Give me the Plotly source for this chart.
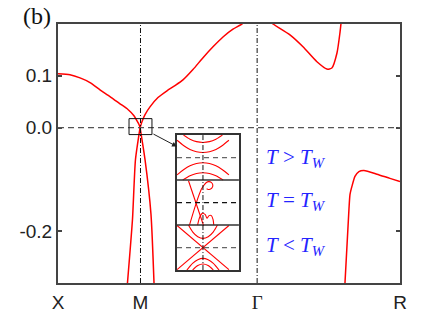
import plotly.graph_objects as go

# ---------------- data ----------------
K_X, K_M, K_G, K_R = 0.0, 1.0, 2.414, 4.146
tick_vals_x = [K_X, K_M, K_G, K_R]
tick_text_x = ["X", "M", "<span style=\"font-family:'Liberation Serif'\">Γ</span>", "R"]
tick_vals_y = [-0.2, 0.0, 0.1]
tick_text_y = ["-0.2", "0.0", "0.1"]

# band from X down to M
b1_k = [0.0, 0.145, 0.267, 0.388, 0.509, 0.630, 0.752, 0.848, 0.921, 0.958, 0.982, 0.995]
b1_e = [0.104, 0.102, 0.096, 0.087, 0.073, 0.060, 0.046, 0.035, 0.023, 0.013, 0.006, 0.0]
# band from M up through Gamma (peak above frame) and back up towards R
b2_k = [0.995, 1.018, 1.055, 1.115, 1.212, 1.321, 1.418, 1.515, 1.636, 1.758, 1.879, 2.0,
        2.121, 2.23, 2.414, 2.606, 2.812, 2.97, 3.139, 3.26, 3.32, 3.382, 3.418, 3.44]
b2_e = [0.0, 0.0115, 0.025, 0.040, 0.058, 0.071, 0.081, 0.092, 0.112, 0.135, 0.156, 0.175,
        0.190, 0.2, 0.222, 0.2, 0.179, 0.156, 0.127, 0.113, 0.115, 0.144, 0.183, 0.215]
# steep bands dropping from M
b3_k = [0.995, 0.939, 0.903, 0.842]
b3_e = [0.0, -0.062, -0.177, -0.30]
b4_k = [0.995, 1.055, 1.127, 1.164]
b4_e = [0.0, -0.062, -0.167, -0.30]
# band between Gamma and R
b5_k = [3.479, 3.527, 3.54, 3.564, 3.6, 3.648, 3.709, 3.867, 4.024, 4.146]
b5_e = [-0.30, -0.158, -0.129, -0.113, -0.094, -0.085, -0.083, -0.090, -0.098, -0.104]

# ---- inset (k relative to M, stacked panels: 2-3 T>Tw, 1-2 T=Tw, 0-1 T<Tw)
# panel T > T_W
p1a_k = [-0.75, -0.5, -0.25, 0.0, 0.25, 0.5, 0.75]
p1a_e = [3.0, 2.91, 2.855, 2.837, 2.855, 2.91, 3.0]
p1b_k = [-1.0, -0.75, -0.5, -0.25, 0.0, 0.25, 0.5, 0.75, 1.0]
p1b_e = [2.885, 2.77, 2.68, 2.63, 2.615, 2.63, 2.68, 2.77, 2.885]
p1c_k = [-1.0, -0.75, -0.5, -0.25, 0.0, 0.25, 0.5, 0.75, 1.0]
p1c_e = [2.115, 2.23, 2.32, 2.37, 2.385, 2.37, 2.32, 2.23, 2.115]
p1d_k = [-0.78, -0.5, -0.25, 0.0, 0.25, 0.5, 0.78]
p1d_e = [2.0, 2.095, 2.146, 2.163, 2.146, 2.095, 2.0]
# panel T = T_W
p2a_k = [-0.558, 0.026]
p2a_e = [1.985, 0.985]
p2b_k = [-0.52, -0.26, -0.06, 0.03, 0.12, 0.22, 0.32, 0.38, 0.34, 0.24, 0.14]
p2b_e = [1.0, 1.489, 1.80, 1.88, 1.94, 1.965, 1.95, 1.89, 1.82, 1.79, 1.81]
p2c_k = [-0.208, -0.13, -0.026, 0.09, 0.156, 0.234, 0.325, 0.39, 0.416]
p2c_e = [1.0, 1.17, 1.26, 1.23, 1.15, 1.21, 1.21, 1.12, 1.0]
# panel T < T_W
p3a_k = [-1.0, 1.0]
p3a_e = [0.99, 0.01]
p3b_k = [-1.0, 1.0]
p3b_e = [0.01, 0.99]
p3c_k = [-0.56, -0.4, -0.2, 0.0, 0.2, 0.4, 0.56]
p3c_e = [1.0, 0.85, 0.74, 0.704, 0.74, 0.85, 1.0]
p3d_k = [-0.62, -0.4, -0.2, 0.0, 0.2, 0.4, 0.62]
p3d_e = [0.0, 0.15, 0.23, 0.259, 0.23, 0.15, 0.0]
p3e_k = [-0.4, -0.2, 0.0, 0.2, 0.4]
p3e_e = [0.0, 0.1, 0.133, 0.1, 0.0]

labels = ["<i>T</i> &gt; <i>T</i><sub><i>W</i></sub>",
          "<i>T</i> = <i>T</i><sub><i>W</i></sub>",
          "<i>T</i> &lt; <i>T</i><sub><i>W</i></sub>"]
label_e = [-0.058, -0.142, -0.229]

# ---------------- figure ----------------
RED = "#ff0000"
fig = go.Figure()
for kk, ee in [(b1_k, b1_e), (b2_k, b2_e), (b3_k, b3_e), (b4_k, b4_e), (b5_k, b5_e)]:
    fig.add_trace(go.Scatter(x=kk, y=ee, mode="lines",
                             line=dict(color=RED, width=1.5, shape="spline", smoothing=0.6),
                             hoverinfo="skip", showlegend=False, xaxis="x", yaxis="y"))

inset = [(p1a_k, p1a_e), (p1b_k, p1b_e), (p1c_k, p1c_e), (p1d_k, p1d_e),
         (p2a_k, p2a_e), (p2b_k, p2b_e), (p2c_k, p2c_e),
         (p3a_k, p3a_e), (p3b_k, p3b_e), (p3c_k, p3c_e), (p3d_k, p3d_e), (p3e_k, p3e_e)]
for kk, ee in inset:
    fig.add_trace(go.Scatter(x=kk, y=ee, mode="lines",
                             line=dict(color=RED, width=1.1, shape="spline", smoothing=0.7),
                             hoverinfo="skip", showlegend=False, xaxis="x2", yaxis="y2"))

shapes = []
shapes.append(dict(type="line", xref="x", yref="y", x0=K_X, x1=K_R, y0=0, y1=0,
                   line=dict(color="#555555", width=1.3, dash="6px,4px")))
for kv in [K_M, K_G]:
    shapes.append(dict(type="line", xref="x", yref="y", x0=kv, x1=kv, y0=-0.3, y1=0.2,
                       line=dict(color="#111111", width=1, dash="5px,2px,1px,2px")))
shapes.append(dict(type="rect", xref="x", yref="y", x0=0.861, x1=1.139, y0=-0.0135, y1=0.0173,
                   line=dict(color="#111111", width=1)))
for yv in [1.0, 2.0]:
    shapes.append(dict(type="line", xref="x2", yref="y2", x0=-1.0, x1=1.385, y0=yv, y1=yv,
                       line=dict(color="#333333", width=1.5)))
for yv, c in [(0.5, "#666666"), (1.5, "#111111"), (2.5, "#666666")]:
    shapes.append(dict(type="line", xref="x2", yref="y2", x0=-1.0, x1=1.385, y0=yv, y1=yv,
                       line=dict(color=c, width=1.3, dash="5px,4px")))
shapes.append(dict(type="line", xref="x2", yref="y2", x0=0, x1=0, y0=0, y1=3,
                   line=dict(color="#111111", width=1, dash="5px,2px,1px,2px")))

annotations = []
annotations.append(dict(xref="paper", yref="paper", x=-0.06, y=1.03, text="(b)", showarrow=False,
                        font=dict(family="Liberation Serif", size=24, color="#111111"),
                        xanchor="center", yanchor="middle"))
annotations.append(dict(xref="x", yref="y", x=1.442, y=-0.0365, ax=1.139, ay=-0.011,
                        axref="x", ayref="y", text="", showarrow=True, arrowhead=2, arrowsize=1,
                        arrowwidth=1, arrowcolor="#222222"))
for t, ev in zip(labels, label_e):
    annotations.append(dict(xref="x", yref="y", x=2.89, y=ev, text=t, showarrow=False,
                            font=dict(family="Liberation Serif", size=21, color="#2424ff"),
                            xanchor="center", yanchor="middle"))

fig.update_layout(
    width=443, height=319,
    margin=dict(l=58, r=43, t=24, b=36),
    paper_bgcolor="white", plot_bgcolor="white",
    shapes=shapes, annotations=annotations,
    xaxis=dict(range=[K_X, K_R], tickvals=tick_vals_x, ticktext=tick_text_x, automargin=False,
               showgrid=False, zeroline=False, showline=True, mirror=True,
               linecolor="#444444", linewidth=2, ticks="", ticklabelstandoff=1,
               tickfont=dict(family="Liberation Sans", size=19, color="#222222")),
    yaxis=dict(range=[-0.3, 0.2], tickvals=tick_vals_y, ticktext=tick_text_y, automargin=False,
               showgrid=False, zeroline=False, showline=True, mirror="ticks",
               linecolor="#444444", linewidth=2, ticks="inside", ticklen=4, tickwidth=1.5,
               tickcolor="#444444",
               tickfont=dict(family="Liberation Sans", size=19, color="#222222")),
    xaxis2=dict(domain=[0.348, 0.529], anchor="y2", range=[-1.0, 1.385],
                showgrid=False, zeroline=False, showline=True, mirror=True,
                linecolor="#333333", linewidth=1.5, showticklabels=False, ticks=""),
    yaxis2=dict(domain=[0.050, 0.571], anchor="x2", range=[0, 3],
                showgrid=False, zeroline=False, showline=True, mirror=True,
                linecolor="#333333", linewidth=1.5, showticklabels=False, ticks=""),
)

fig.write_html("out.html", config={"displayModeBar": False},
               post_script="document.body.style.margin='0px';")
